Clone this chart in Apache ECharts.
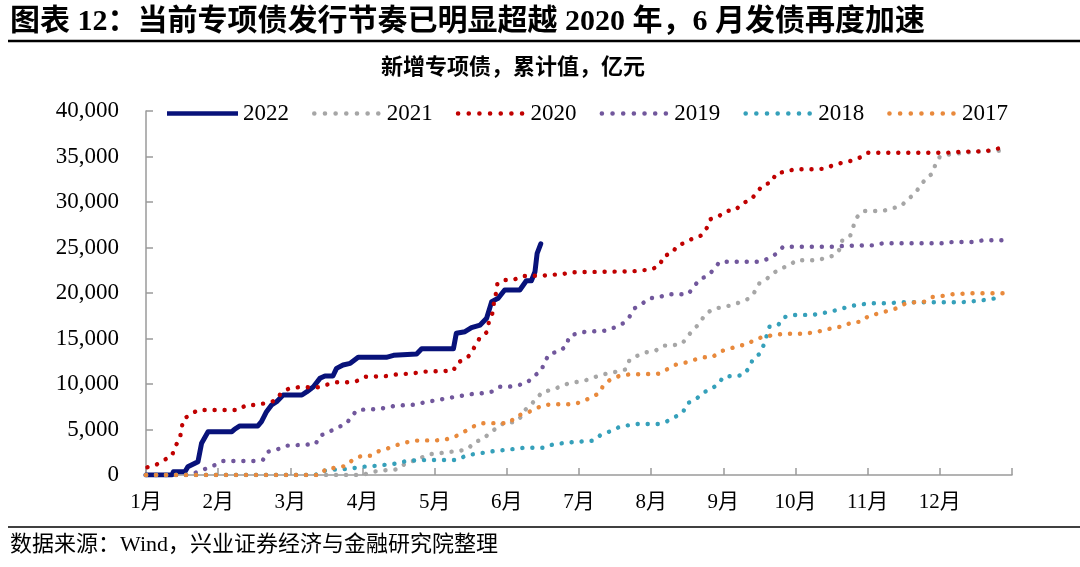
<!DOCTYPE html>
<html>
<head>
<meta charset="utf-8">
<script src="https://cdn.jsdelivr.net/npm/echarts@6/dist/echarts.min.js"></script>
<style>
html,body{margin:0;padding:0;background:#fff;}
#chart{width:1080px;height:567px;}
</style>
</head>
<body>
<div id="chart"></div>
<script>
// x = month position (0 = 1月初, 12 = 年末), y = 累计值（亿元）
const monthLabels = ['1月','2月','3月','4月','5月','6月','7月','8月','9月','10月','11月','12月'];
const yTicks = [0,5000,10000,15000,20000,25000,30000,35000,40000];
const seriesNames = ['2022','2021','2020','2019','2018','2017'];

const s2022 = [[0,0],[0.36,0],[0.38,360],[0.54,360],[0.58,900],[0.72,1460],[0.77,3480],[0.86,4760],[1.19,4760],[1.23,5050],[1.30,5390],[1.55,5390],[1.60,5860],[1.67,6960],[1.74,7690],[1.81,8060],[1.90,8790],[2.16,8790],[2.23,9160],[2.32,9700],[2.41,10620],[2.48,10880],[2.59,10880],[2.64,11720],[2.73,12090],[2.83,12270],[2.94,12930],[3.33,12930],[3.43,13150],[3.75,13300],[3.82,13880],[4.26,13880],[4.30,15570],[4.42,15750],[4.51,16190],[4.63,16480],[4.72,17220],[4.79,19050],[4.88,19420],[4.97,20330],[5.18,20330],[5.27,21350],[5.34,21350],[5.39,22340],[5.42,24360],[5.47,25390]];

const s2021 = [[0,0],[3.00,0],[3.10,250],[3.22,470],[3.49,620],[3.59,1250],[3.70,1550],[3.82,1920],[3.94,2290],[4.09,2420],[4.23,2560],[4.35,2650],[4.47,2930],[4.55,3620],[4.67,3920],[4.77,4670],[4.88,5280],[4.97,5790],[5.11,5790],[5.20,6410],[5.26,7200],[5.34,7790],[5.41,8390],[5.50,9180],[5.63,9340],[5.76,9800],[5.87,10100],[6.00,10260],[6.14,10500],[6.27,10910],[6.40,11170],[6.52,11350],[6.65,11610],[6.70,12640],[6.80,13080],[6.93,13480],[7.06,13660],[7.16,14210],[7.30,14250],[7.43,14430],[7.51,15310],[7.67,16670],[7.74,17550],[7.85,18240],[7.98,18430],[8.11,18650],[8.23,18980],[8.34,19340],[8.43,20080],[8.50,21070],[8.60,21540],[8.69,22170],[8.79,22670],[8.92,23050],[9.01,23600],[9.29,23600],[9.42,23850],[9.54,24140],[9.62,24870],[9.65,25830],[9.76,26340],[9.80,27290],[9.85,28320],[9.94,29010],[10.21,29010],[10.34,29310],[10.46,29530],[10.56,30330],[10.65,30880],[10.73,31790],[10.81,32600],[10.90,33150],[10.94,34180],[11.00,34980],[11.14,35240],[11.27,35350],[11.45,35500],[11.65,35600],[11.83,35640],[11.94,35790]];

const s2020 = [[0.02,850],[0.15,1170],[0.25,1650],[0.36,2090],[0.40,3110],[0.47,3960],[0.49,5060],[0.52,6150],[0.62,6670],[0.72,7140],[1.28,7140],[1.39,7690],[1.51,7690],[1.65,7880],[1.79,8170],[1.87,8970],[1.97,9450],[2.11,9640],[2.39,9640],[2.52,9960],[2.64,10190],[2.78,10190],[2.92,10330],[3.03,10800],[3.31,10850],[3.43,11020],[3.70,11170],[3.84,11350],[4.26,11460],[4.31,12340],[4.42,12710],[4.50,13260],[4.56,14210],[4.63,15130],[4.72,15680],[4.75,16740],[4.80,17770],[4.82,18870],[4.85,19970],[4.87,21070],[4.95,21430],[5.09,21430],[5.22,21870],[5.48,21900],[5.78,22090],[5.90,22280],[6.74,22380],[7.01,22600],[7.12,23050],[7.17,24070],[7.29,24360],[7.36,25200],[7.47,25530],[7.58,26010],[7.70,26340],[7.77,27140],[7.82,28100],[7.94,28460],[8.04,29010],[8.17,29120],[8.26,29860],[8.38,30220],[8.46,31020],[8.55,31870],[8.67,32160],[8.73,33150],[8.86,33330],[8.99,33600],[9.27,33600],[9.40,33660],[9.52,34030],[9.65,34320],[9.78,34540],[9.90,34910],[10.00,35420],[11.11,35420],[11.25,35500],[11.53,35560],[11.67,35640],[11.79,35860],[11.93,35970]];

const s2019 = [[0,0],[0.55,0],[0.70,290],[0.84,730],[0.96,1100],[1.07,1540],[1.49,1540],[1.62,1650],[1.69,2560],[1.82,2820],[1.95,3220],[2.35,3400],[2.41,4320],[2.52,4650],[2.64,5200],[2.77,5570],[2.84,6340],[2.92,7110],[3.06,7220],[3.20,7220],[3.33,7400],[3.46,7620],[3.73,7730],[3.86,7990],[4.12,8350],[4.25,8540],[4.52,8900],[4.65,8980],[4.79,9160],[4.90,9700],[5.03,9700],[5.17,9890],[5.28,10140],[5.38,10910],[5.48,11460],[5.52,12450],[5.60,13370],[5.72,13550],[5.83,14210],[5.86,15200],[5.97,15570],[6.10,15750],[6.37,15860],[6.50,16230],[6.61,16670],[6.70,17400],[6.77,18320],[6.87,18790],[6.97,19420],[7.11,19530],[7.23,19860],[7.51,19860],[7.59,20660],[7.67,21510],[7.79,21900],[7.87,22640],[7.95,23440],[8.50,23440],[8.64,23810],[8.74,24360],[8.83,25090],[9.52,25090],[9.66,25170],[10.07,25240],[10.21,25460],[11.04,25460],[11.18,25610],[11.46,25610],[11.60,25790],[11.94,25790]];

const s2018 = [[0,0],[2.35,0],[2.41,360],[2.53,550],[2.67,620],[2.81,660],[2.95,850],[3.08,960],[3.22,1020],[3.36,1170],[3.49,1280],[3.62,1570],[3.90,1650],[4.31,1650],[4.45,2200],[4.57,2310],[4.71,2490],[4.83,2640],[4.97,2750],[5.10,2860],[5.24,3000],[5.52,3000],[5.61,3300],[5.76,3480],[5.90,3600],[6.06,3700],[6.20,3770],[6.30,4400],[6.42,4760],[6.55,5240],[6.68,5460],[6.82,5610],[7.10,5610],[7.22,5900],[7.34,6410],[7.44,6890],[7.50,7880],[7.62,8320],[7.72,9050],[7.84,9480],[7.94,10080],[8.00,10800],[8.13,10880],[8.27,10960],[8.36,11790],[8.41,12750],[8.50,13300],[8.56,14290],[8.64,16300],[8.76,16480],[8.84,17330],[8.96,17580],[9.24,17600],[9.37,17770],[9.50,17990],[9.63,18240],[9.76,18570],[9.89,18720],[10.03,18870],[10.30,18870],[10.44,18980],[11.30,18980],[11.55,19160],[11.69,19310],[11.83,19490]];

const s2017 = [[0,0],[2.41,0],[2.50,700],[2.64,800],[2.78,1020],[2.86,1650],[2.99,2120],[3.12,2120],[3.23,2640],[3.35,2930],[3.48,3300],[3.61,3590],[3.74,3770],[3.84,3800],[4.02,3800],[4.16,3920],[4.28,4210],[4.40,4690],[4.51,5240],[4.64,5680],[4.80,5700],[5.03,5700],[5.14,6520],[5.27,6780],[5.39,7250],[5.51,7690],[5.65,7770],[5.92,7780],[6.05,8060],[6.17,8540],[6.28,8980],[6.34,9890],[6.44,10520],[6.57,10910],[6.70,11060],[6.91,11080],[7.11,11130],[7.23,11650],[7.34,12120],[7.47,12340],[7.60,12670],[7.73,12930],[7.85,12960],[7.96,13590],[8.09,13880],[8.21,14180],[8.33,14360],[8.45,14950],[8.57,15200],[8.71,15390],[8.85,15530],[9.13,15530],[9.26,15680],[9.39,15900],[9.52,16160],[9.66,16340],[9.78,16780],[9.91,16850],[10.01,17470],[10.14,17730],[10.27,18020],[10.40,18320],[10.52,18830],[10.65,18980],[10.80,19050],[10.90,19560],[11.03,19670],[11.17,19860],[11.45,19970],[11.91,19970]];

const colors = {'2022':'#08127a','2021':'#a6a6a6','2020':'#c00000','2019':'#71579c','2018':'#35a0ba','2017':'#e8893c'};
const dataMap = {'2022':s2022,'2021':s2021,'2020':s2020,'2019':s2019,'2018':s2018,'2017':s2017};

// legend icons
function dotPath(n, r, gap){
  let p = '';
  for(let i=0;i<n;i++){
    const cx = r + i*gap;
    p += 'M'+(cx-r)+' '+r+' a'+r+' '+r+' 0 1 0 '+(2*r)+' 0 a'+r+' '+r+' 0 1 0 '+(-2*r)+' 0 ';
  }
  return 'path://' + p;
}
const dotIcon = dotPath(7, 2.2, 10.2);
const solidIcon = 'path://M0 0 L71 0 L71 4.6 L0 4.6 Z';

const serifCJK = "'Liberation Serif','Times New Roman','Noto Sans CJK SC',serif";

const chart = echarts.init(document.getElementById('chart'), null, {renderer:'canvas'});

const series = seriesNames.map(name => {
  const isSolid = name === '2022';
  return {
    name: name,
    type: 'line',
    data: dataMap[name],
    showSymbol: false,
    symbol: 'none',
    silent: true,
    animation: false,
    z: isSolid ? 2 : 3,
    lineStyle: isSolid
      ? {color: colors[name], width: 5, cap: 'round', join: 'round'}
      : {color: colors[name], width: 4.4, type: [0.1, 9.9], cap: 'round', join: 'round'},
    itemStyle: {color: colors[name]}
  };
});

const option = {
  animation: false,
  backgroundColor: '#fff',
  grid: {left: 146, right: 68, top: 111, bottom: 92, containLabel: false},
  legend: {
    left: 162, top: 97,
    itemWidth: 71, itemHeight: 4.6, itemGap: 23,
    selectedMode: false,
    itemStyle: {borderWidth: 0},
    textStyle: {fontFamily: serifCJK, fontSize: 23, color: '#000', padding: [0,0,0,0]},
    data: seriesNames.map(n => ({name: n, icon: n === '2022' ? solidIcon : dotIcon}))
  },
  xAxis: {
    type: 'value', min: 0, max: 12, interval: 1,
    axisLine: {show: true, lineStyle: {color: '#9a9a9a', width: 1.5}},
    axisTick: {show: true, inside: true, length: 7, lineStyle: {color: '#9a9a9a', width: 1.5}},
    splitLine: {show: false},
    axisLabel: {
      margin: 17, color: '#000', fontSize: 21, fontFamily: serifCJK,
      formatter: v => (v < 12 ? monthLabels[Math.round(v)] : '')
    }
  },
  yAxis: {
    type: 'value', min: yTicks[0], max: yTicks[yTicks.length-1], interval: 5000,
    axisLine: {show: true, lineStyle: {color: '#9a9a9a', width: 1.5}},
    axisTick: {show: true, inside: true, length: 7, lineStyle: {color: '#9a9a9a', width: 1.5}},
    splitLine: {show: false},
    axisLabel: {
      margin: 27, color: '#000', fontSize: 23, fontFamily: serifCJK,
      formatter: v => v.toLocaleString('en-US')
    }
  },
  graphic: [
    {type: 'text', left: 10, top: 7, style: {text: '图表 12：当前专项债发行节奏已明显超越 2020 年，6 月发债再度加速', font: "bold 30px " + serifCJK, fill: '#000'}},
    {type: 'line', shape: {x1: 8, y1: 41, x2: 1080, y2: 41}, style: {stroke: '#000', lineWidth: 2.5}},
    {type: 'text', x: 513, y: 68, style: {text: '新增专项债，累计值，亿元', font: "bold 22px " + serifCJK, fill: '#000', align: 'center', verticalAlign: 'middle'}},
    {type: 'line', shape: {x1: 8, y1: 527, x2: 1080, y2: 527}, style: {stroke: '#000', lineWidth: 1.5}},
    {type: 'text', left: 10, top: 534, style: {text: '数据来源：Wind，兴业证券经济与金融研究院整理', font: "22px " + serifCJK, fill: '#000'}}
  ],
  series: series
};
chart.setOption(option);
</script>
</body>
</html>
